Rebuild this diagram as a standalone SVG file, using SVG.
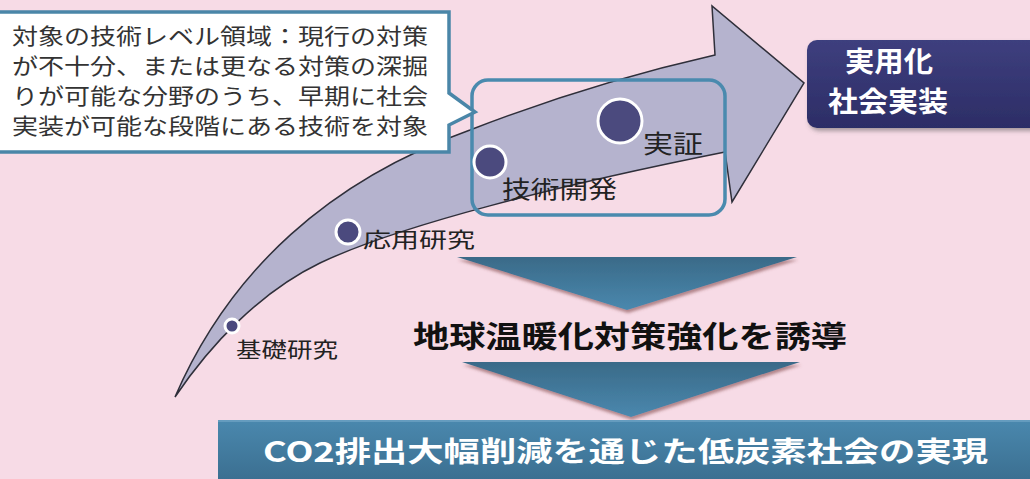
<svg xmlns="http://www.w3.org/2000/svg" width="1030" height="479" viewBox="0 0 1030 479">
<defs>
<style>
.jp{font-family:"Noto Sans CJK JP","Noto Sans CJK SC",sans-serif;}
.lbl{font-size:21px;fill:#222;}
.call{font-size:22px;fill:#333;}
.wb{fill:#fff;font-weight:bold;}
.dot{fill:#4B4A7E;stroke:#fff;stroke-width:3;}
</style>
<linearGradient id="tri" x1="0" y1="0" x2="0" y2="1">
<stop offset="0" stop-color="#3A6A88"/>
<stop offset="1" stop-color="#4A88AE"/>
</linearGradient>
<linearGradient id="bar" x1="0" y1="0" x2="0" y2="1">
<stop offset="0" stop-color="#4A88AE"/>
<stop offset="1" stop-color="#3A6D8E"/>
</linearGradient>
<linearGradient id="navy" x1="0" y1="0" x2="0" y2="1">
<stop offset="0" stop-color="#3E3F7E"/>
<stop offset="1" stop-color="#2C2D66"/>
</linearGradient>
<filter id="sh" x="-10%" y="-20%" width="120%" height="150%">
<feDropShadow dx="1" dy="3" stdDeviation="1.5" flood-color="#7a3f3f" flood-opacity="0.55"/>
</filter>
<filter id="sh2" x="-10%" y="-20%" width="130%" height="150%">
<feDropShadow dx="2" dy="3" stdDeviation="2" flood-color="#555" flood-opacity="0.5"/>
</filter>
</defs>
<rect width="1030" height="479" fill="#F7DBE6"/>

<g id="big-arrow">
<path d="M175,397 C230,270 330,180 470,130 C560,95 640,72 715,55 L712,6 L804,83 L732,202 L725,152 C560,185 400,225 320,263 C260,292 210,345 175,397 Z" fill="#B5B3CE" stroke="#2f2f3a" stroke-width="1.5" stroke-linejoin="miter"/>
</g>

<g id="stage-box">
<rect x="472" y="80" width="253" height="135" rx="16" fill="none" stroke="#4A8AAE" stroke-width="3.5"/>
</g>

<g id="node-kiso">
<circle class="dot" cx="232" cy="326" r="7"/>
<text class="jp lbl" x="236" y="357" textLength="102" lengthAdjust="spacingAndGlyphs">基礎研究</text>
</g>
<g id="node-oyo">
<circle class="dot" cx="348" cy="232" r="12"/>
<text class="jp lbl" x="363" y="247" font-size="22" textLength="112" lengthAdjust="spacingAndGlyphs">応用研究</text>
</g>
<g id="node-kaihatsu">
<circle class="dot" cx="490" cy="162" r="16"/>
<text class="jp lbl" x="502" y="198" style="font-size:24px" textLength="115" lengthAdjust="spacingAndGlyphs">技術開発</text>
</g>
<g id="node-jissho">
<circle class="dot" cx="620" cy="121" r="22"/>
<text class="jp lbl" x="643" y="153" style="font-size:25px" textLength="60" lengthAdjust="spacingAndGlyphs">実証</text>
</g>

<g id="callout">
<path d="M-5,12 H449 V93 L475,112 L449,125 V152 H-5 Z" fill="#fff" stroke="#4A86A8" stroke-width="3.5" stroke-linejoin="miter"/>
<text class="jp call" x="12" y="44" textLength="416" lengthAdjust="spacingAndGlyphs">対象の技術レベル領域：現行の対策</text>
<text class="jp call" x="12" y="74" textLength="416" lengthAdjust="spacingAndGlyphs">が不十分、または更なる対策の深掘</text>
<text class="jp call" x="12" y="104" textLength="416" lengthAdjust="spacingAndGlyphs">りが可能な分野のうち、早期に社会</text>
<text class="jp call" x="12" y="134" textLength="416" lengthAdjust="spacingAndGlyphs">実装が可能な段階にある技術を対象</text>
</g>

<g id="goal">
<rect x="807" y="40" width="240" height="88" rx="10" fill="url(#navy)" filter="url(#sh2)"/>
<text class="jp wb" x="889" y="72" font-size="28" text-anchor="middle" textLength="88" lengthAdjust="spacingAndGlyphs">実用化</text>
<text class="jp wb" x="888" y="112" font-size="28" text-anchor="middle" textLength="120" lengthAdjust="spacingAndGlyphs">社会実装</text>
</g>

<g id="down-arrow-1">
<polygon points="457,257 797,257 627,310" fill="url(#tri)" filter="url(#sh)"/>
</g>
<g id="middle-text">
<text class="jp" x="413" y="347" font-size="30" font-weight="bold" fill="#111" textLength="434" lengthAdjust="spacingAndGlyphs">地球温暖化対策強化を誘導</text>
</g>
<g id="down-arrow-2">
<polygon points="462,362 800,362 631,417" fill="url(#tri)" filter="url(#sh)"/>
</g>

<g id="result-bar">
<rect x="218" y="420" width="820" height="65" fill="url(#bar)"/>
<line x1="218" y1="421" x2="1030" y2="421" stroke="#6FA3C4" stroke-width="1.5"/>
<text class="jp wb" x="263" y="462" font-size="28" textLength="725" lengthAdjust="spacingAndGlyphs">CO2排出大幅削減を通じた低炭素社会の実現</text>
</g>
</svg>
